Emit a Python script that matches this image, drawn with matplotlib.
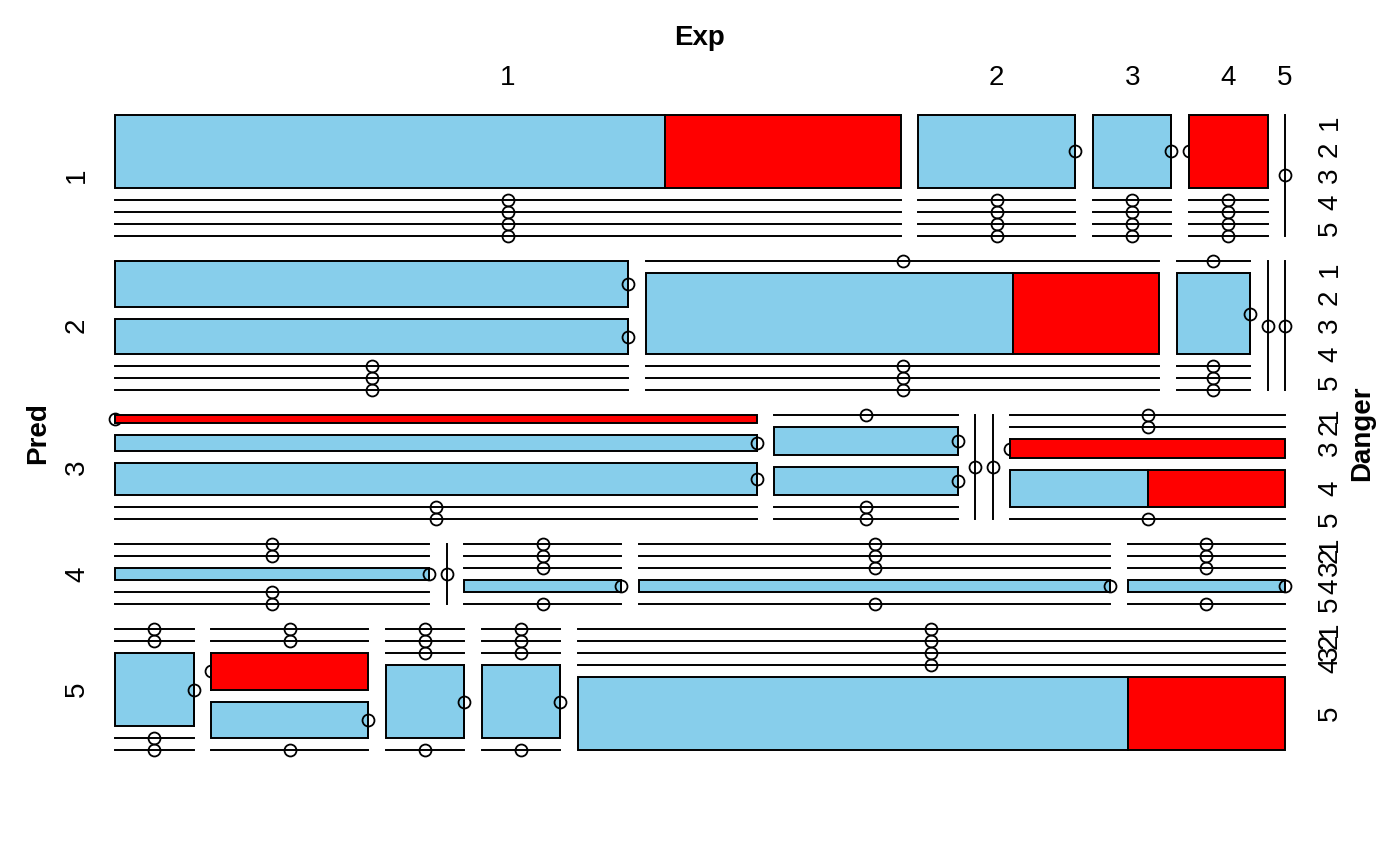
import matplotlib
matplotlib.use("Agg")
import matplotlib.pyplot as plt
from matplotlib.patches import Rectangle
import numpy as np

plt.rcParams['font.family'] = ['Liberation Sans', 'DejaVu Sans']

## Data: counts per Pred level, rows = Exp 1..5, cols = Danger 1..5 ##
pred_levels = ["1", "2", "3", "4", "5"]
exp_levels = ["1", "2", "3", "4", "5"]
danger_levels = ["1", "2", "3", "4", "5"]
fill_colors = ["skyblue", "red"]

blue_p1 = [[7, 0, 0, 0, 0], [2, 0, 0, 0, 0], [1, 0, 0, 0, 0], [0, 0, 0, 0, 0], [0, 0, 0, 0, 0]]
red_p1  = [[3, 0, 0, 0, 0], [0, 0, 0, 0, 0], [0, 0, 0, 0, 0], [1, 0, 0, 0, 0], [0, 0, 0, 0, 0]]
blue_p2 = [[4, 3, 0, 0, 0], [0, 5, 0, 0, 0], [0, 1, 0, 0, 0], [0, 0, 0, 0, 0], [0, 0, 0, 0, 0]]
red_p2  = [[0, 0, 0, 0, 0], [0, 2, 0, 0, 0], [0, 0, 0, 0, 0], [0, 0, 0, 0, 0], [0, 0, 0, 0, 0]]
blue_p3 = [[0, 2, 4, 0, 0], [0, 1, 1, 0, 0], [0, 0, 0, 0, 0], [0, 0, 0, 0, 0], [0, 0, 0, 1, 0]]
red_p3  = [[1, 0, 0, 0, 0], [0, 0, 0, 0, 0], [0, 0, 0, 0, 0], [0, 0, 0, 0, 0], [0, 0, 1, 1, 0]]
blue_p4 = [[0, 0, 2, 0, 0], [0, 0, 0, 0, 0], [0, 0, 0, 1, 0], [0, 0, 0, 3, 0], [0, 0, 0, 1, 0]]
red_p4  = [[0, 0, 0, 0, 0], [0, 0, 0, 0, 0], [0, 0, 0, 0, 0], [0, 0, 0, 0, 0], [0, 0, 0, 0, 0]]
blue_p5 = [[0, 0, 1, 0, 0], [0, 0, 0, 1, 0], [0, 0, 0, 1, 0], [0, 0, 0, 1, 0], [0, 0, 0, 0, 7]]
red_p5  = [[0, 0, 0, 0, 0], [0, 0, 1, 0, 0], [0, 0, 0, 0, 0], [0, 0, 0, 0, 0], [0, 0, 0, 0, 2]]

blues = [blue_p1, blue_p2, blue_p3, blue_p4, blue_p5]
reds = [red_p1, red_p2, red_p3, red_p4, red_p5]
# table[pred, exp, danger, fill]
table = np.stack([np.stack([np.array(b), np.array(r)], axis=-1) for b, r in zip(blues, reds)])

## Layout (pixel units) ##
X0, X1 = 115, 1285
Y0, Y1 = 115, 750
gaps = [25, 17.5, 12, 0]     # spacing per split level
dirs = ["h", "v", "h", "v"]
LW = 1.4
FS = 20

fig = plt.figure(figsize=(14, 8.66), dpi=100)
ax = fig.add_axes([0, 0, 1, 1])
ax.set_xlim(0, 1400)
ax.set_ylim(866, 0)
ax.axis("off")


def split(lo, hi, counts, gap):
    n = len(counts)
    tot = counts.sum()
    avail = (hi - lo) - (n - 1) * gap
    w = counts / tot if tot > 0 else np.ones(n) / n
    out = []
    pos = lo
    for k in range(n):
        size = avail * w[k]
        out.append((pos, pos + size))
        pos += size + gap
    return out


def zero_mark(d, pos, a, b):
    # empty cell: a line through the slot plus a small open circle
    if d == "h":
        ax.plot([a, b], [pos, pos], color="black", lw=LW, zorder=3)
        ax.plot((a + b) / 2, pos, "o", ms=8.6, mfc="none", mec="black", mew=1.3, zorder=3)
    else:
        ax.plot([pos, pos], [a, b], color="black", lw=LW, zorder=3)
        ax.plot(pos, (a + b) / 2, "o", ms=8.6, mfc="none", mec="black", mew=1.3, zorder=3)


def cell(sub, x1, y1, x2, y2, level):
    d = dirs[level]
    counts = np.array([sub[k].sum() for k in range(sub.shape[0])])
    if d == "h":
        parts = split(y1, y2, counts, gaps[level])
    else:
        parts = split(x1, x2, counts, gaps[level])
    for k, (a, b) in enumerate(parts):
        if counts[k] == 0:
            if d == "h":
                zero_mark("h", a, x1, x2)
            else:
                zero_mark("v", a, y1, y2)
            continue
        cx1, cy1, cx2, cy2 = (x1, a, x2, b) if d == "h" else (a, y1, b, y2)
        if level == len(dirs) - 1:
            ax.add_patch(Rectangle((cx1, cy1), cx2 - cx1, cy2 - cy1, facecolor=fill_colors[k],
                                   edgecolor="black", lw=LW, zorder=3))
        else:
            cell(sub[k], cx1, cy1, cx2, cy2, level + 1)
    return parts


# draw mosaic
pred_parts = cell(table, X0, Y0, X1, Y1, 0)

# Pred labels (left)
for i, (a, b) in enumerate(pred_parts):
    ax.text(77, (a + b) / 2, pred_levels[i], rotation=90, ha="center", va="center", fontsize=FS)

    # Exp splits in this row
    exp_counts = np.array([table[i, j].sum() for j in range(5)])
    exp_parts = split(X0, X1, exp_counts, gaps[1])

    # Exp labels on top from first row
    if i == 0:
        for j, (ea, eb) in enumerate(exp_parts):
            ax.text((ea + eb) / 2, 78, exp_levels[j], ha="center", va="center", fontsize=FS)

    # Danger labels (right) from last Exp column
    d_counts = np.array([table[i, 4, k].sum() for k in range(5)])
    d_parts = split(a, b, d_counts, gaps[2])
    for k, (da, db) in enumerate(d_parts):
        ax.text(1330, (da + db) / 2, danger_levels[k], rotation=90, ha="center", va="center", fontsize=FS)

ax.text(700, 38, "Exp", ha="center", va="center", fontsize=FS, fontweight="bold")
ax.text(38, 433, "Pred", rotation=90, ha="center", va="center", fontsize=FS, fontweight="bold")
ax.text(1362, 433, "Danger", rotation=90, ha="center", va="center", fontsize=FS, fontweight="bold")

fig.savefig("out.png", dpi=100)
